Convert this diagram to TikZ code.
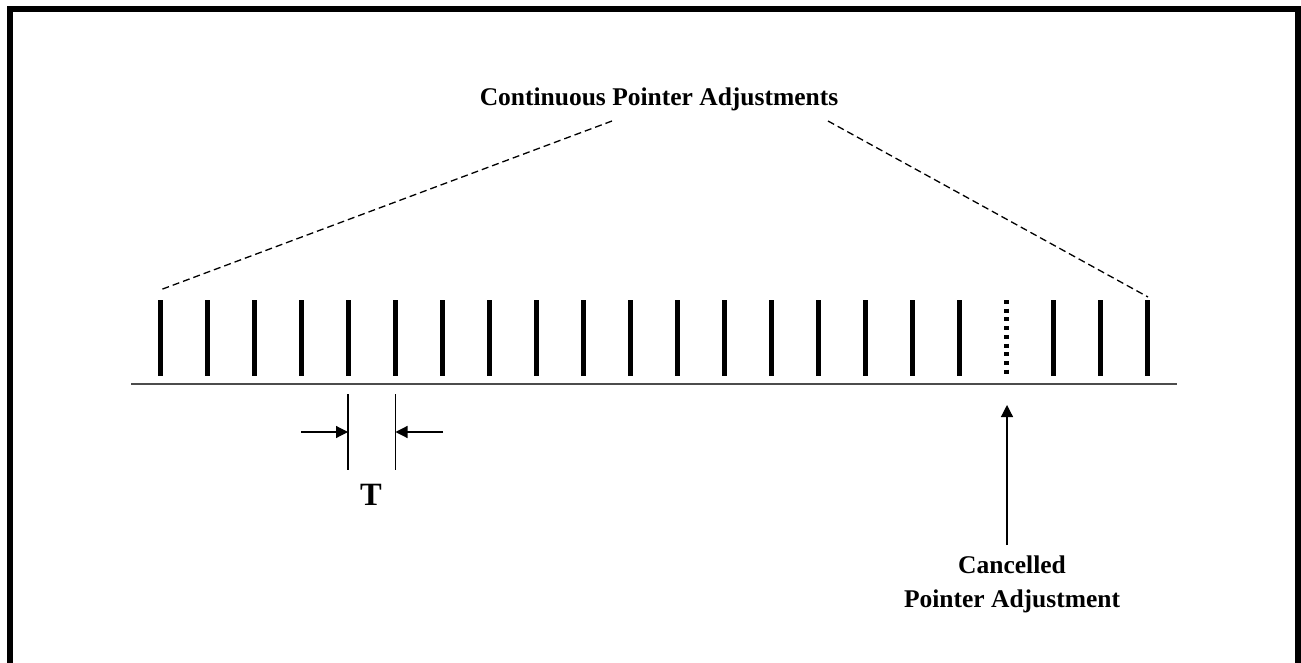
\documentclass[tikz,border=0pt]{standalone}
\usepackage{fontspec}
\setmainfont{Liberation Serif}
\usetikzlibrary{arrows.meta}

\begin{document}
\begin{tikzpicture}[
  x=1pt, y=-1pt,
  frame/.style={line width=6pt, black},
  pulse/.style={line width=5pt, black},
  cancelled/.style={line width=5pt, black, dash pattern=on 4pt off 4.7pt},
  axis/.style={line width=2pt, black!70},
  span/.style={line width=1.3pt, black, dash pattern=on 7pt off 4pt},
  dimline/.style={line width=1.2pt, black},
  lbl/.style={font=\fontsize{25.5}{32}\selectfont\bfseries, align=center, inner sep=0pt},
  big/.style={font=\fontsize{32.5}{38}\selectfont\bfseries, inner sep=0pt},
  >={Triangle[length=12pt,width=12pt]}
]
\useasboundingbox (0,0) rectangle (1301,663);

% === Frame (open at the bottom) ===
\draw[frame] (10,670) -- (10,9) -- (1297.5,9) -- (1297.5,670);

% === Time axis ===
\coordinate (A0) at (131,384);
\coordinate (A1) at (1177,384);
\draw[axis] (A0) -- (A1);

% === Pointer adjustments ===
\foreach \i in {0,...,21} {
  \coordinate (Pt\i) at ({160.5+47*\i},300);
  \coordinate (Pb\i) at ({160.5+47*\i},375.5);
}
\foreach \i in {0,...,17,19,20,21} {
  \draw[pulse] (Pt\i) -- (Pb\i);
}
% cancelled one
\draw[cancelled] (Pt18) -- (Pb18);

% === Title and span lines ===
\node[lbl, anchor=base] (title) at (659,106) {Continuous Pointer Adjustments};
\coordinate (SL) at (612,121);
\coordinate (SR) at (828,121);
\coordinate (EL) at (160,290);
\coordinate (ER) at (1148,297);
\draw[span] (SL) -- (EL);
\draw[span] (SR) -- (ER);

% === Period T ===
\coordinate (T1a) at (348,394);
\coordinate (T1b) at (348,470);
\coordinate (T2a) at (395.5,394);
\coordinate (T2b) at (395.5,470);
\draw[dimline] (T1a) -- (T1b);
\draw[dimline] (T2a) -- (T2b);
\coordinate (L0) at (301,432);
\coordinate (L1) at (348,432);
\coordinate (R0) at (443,432);
\coordinate (R1) at (395.5,432);
\draw[dimline, ->] (L0) -- (L1);
\draw[dimline, ->] (R0) -- (R1);
\node[big, anchor=base] (T) at (371,505.5) {T};

% === Cancelled adjustment ===
\node[lbl, anchor=base] (cancel) at (1012,607) {Cancelled\\[2pt]Pointer Adjustment};
\coordinate (C0) at (1007,545);
\coordinate (C1) at (1007,405);
\draw[dimline, ->] (C0) -- (C1);

\end{tikzpicture}
\end{document}
